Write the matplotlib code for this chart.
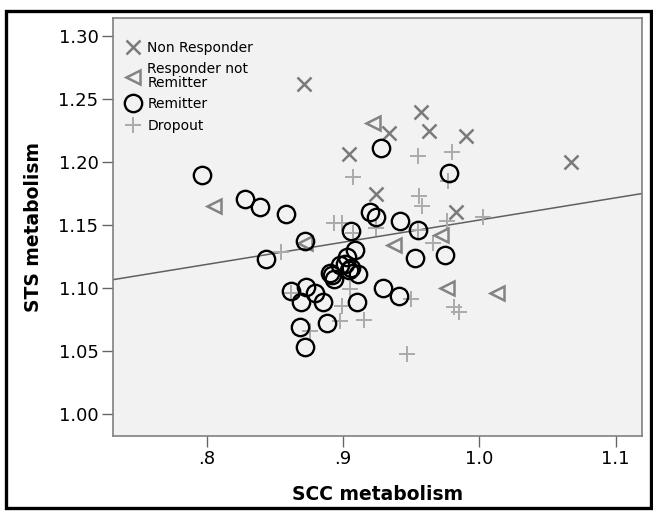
import matplotlib
matplotlib.use("Agg")
import matplotlib.pyplot as plt
from matplotlib.patches import Rectangle

# ---- data ----
nonresp_x = [0.871, 0.957, 0.934, 0.963, 0.990, 0.904, 0.924, 0.983, 1.067]
nonresp_y = [1.262, 1.240, 1.223, 1.225, 1.221, 1.206, 1.175, 1.160, 1.200]

respnr_x = [0.805, 0.922, 0.872, 0.937, 0.972, 0.976, 1.013]
respnr_y = [1.165, 1.231, 1.136, 1.134, 1.142, 1.100, 1.096]

remit_x = [0.796, 0.828, 0.839, 0.858, 0.872, 0.843, 0.928, 0.920, 0.924,
           0.942, 0.906, 0.955, 0.978, 0.953, 0.975, 0.909, 0.903, 0.890,
           0.892, 0.893, 0.898, 0.901, 0.906, 0.904, 0.911, 0.929, 0.941,
           0.862, 0.873, 0.879, 0.869, 0.885, 0.910, 0.888, 0.868, 0.872]
remit_y = [1.190, 1.171, 1.164, 1.159, 1.137, 1.123, 1.211, 1.160, 1.156,
           1.153, 1.145, 1.146, 1.191, 1.124, 1.126, 1.130, 1.125, 1.112,
           1.110, 1.107, 1.118, 1.119, 1.116, 1.114, 1.111, 1.100, 1.094,
           1.098, 1.101, 1.096, 1.089, 1.089, 1.089, 1.072, 1.069, 1.053]

drop_x = [0.955, 0.980, 0.977, 0.956, 0.958, 1.003, 0.976, 0.907, 0.893,
          0.899, 0.924, 0.907, 0.854, 0.966, 0.955, 0.950, 0.981, 0.985,
          0.905, 0.862, 0.899, 0.915, 0.898, 0.876, 0.947]
drop_y = [1.205, 1.208, 1.185, 1.173, 1.165, 1.156, 1.153, 1.188, 1.152,
          1.152, 1.148, 1.144, 1.129, 1.136, 1.146, 1.091, 1.085, 1.081,
          1.099, 1.096, 1.086, 1.075, 1.074, 1.066, 1.048]

# fit line
fit_slope = 0.176
fit_intercept = 0.978

x_ticks = [0.8, 0.9, 1.0, 1.1]
x_ticklabels = [".8", ".9", "1.0", "1.1"]
y_ticks = [1.00, 1.05, 1.10, 1.15, 1.20, 1.25, 1.30]
y_ticklabels = ["1.00", "1.05", "1.10", "1.15", "1.20", "1.25", "1.30"]

labels = ["Non Responder", "Responder not\nRemitter", "Remitter", "Dropout"]

plt.rcParams['font.family'] = ['DejaVu Sans']

fig = plt.figure(figsize=(6.53, 5.12), dpi=100)
ax = fig.add_axes([0.173, 0.1494, 0.8094, 0.8164])
ax.set_facecolor('#f2f2f2')

xlim = (0.731, 1.119)
ax.set_xlim(*xlim)
ax.set_ylim(0.983, 1.3147)

# fit line
ax.plot(list(xlim), [fit_intercept + fit_slope * v for v in xlim],
        color='#606060', lw=1.1, zorder=1)

h1, = ax.plot(nonresp_x, nonresp_y, ls='none', marker='x', ms=10.5,
              mew=1.8, color='#7a7a7a', zorder=3)
h2, = ax.plot(respnr_x, respnr_y, ls='none', marker='<', ms=10,
              mew=1.8, mfc='none', mec='#838383', zorder=3)
h3, = ax.plot(remit_x, remit_y, ls='none', marker='o', ms=12.5,
              mew=1.7, mfc='none', mec='#000000', zorder=4)
h4, = ax.plot(drop_x, drop_y, ls='none', marker='+', ms=11.5,
              mew=1.4, color='#ababab', zorder=2)

leg = ax.legend([h1, h2, h3, h4], labels, loc='upper left', frameon=False,
                fontsize=10, handlelength=0.9, handletextpad=0.6,
                labelspacing=0.55, borderaxespad=0, borderpad=0,
                bbox_to_anchor=(0.0255, 0.945))
for t in leg.get_texts():
    t.set_linespacing(0.95)

ax.set_xticks(x_ticks)
ax.set_xticklabels(x_ticklabels)
ax.set_yticks(y_ticks)
ax.set_yticklabels(y_ticklabels)
ax.tick_params(axis='both', direction='out', length=8, width=1,
               color='#666666', labelsize=13, pad=2.5)

for s in ax.spines.values():
    s.set_color('#808080')
    s.set_linewidth(1.2)

ax.set_xlabel('SCC metabolism', fontsize=13.5, fontweight='bold', labelpad=12)
ax.set_ylabel('STS metabolism', fontsize=13.5, fontweight='bold', labelpad=11)

# outer black frame around the figure
fig.patches.append(Rectangle((6 / 653, 4 / 512), 645 / 653, 497 / 512,
                             transform=fig.transFigure, fill=False,
                             edgecolor='black', lw=2.4))

fig.savefig('out.png', dpi=100)
